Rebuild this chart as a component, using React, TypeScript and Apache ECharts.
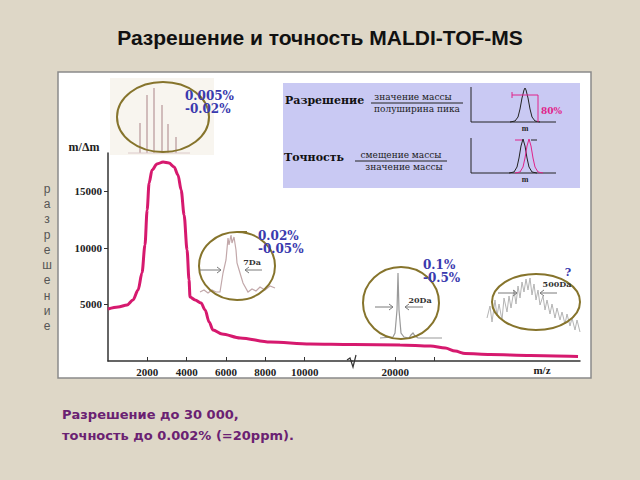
import React, { useEffect, useRef } from 'react';
import * as echarts from 'echarts';

const mzValues = [0, 510, 970, 1270, 1530, 1730, 1880, 1990, 2090, 2240, 2490, 2800, 3100, 3360, 3560, 3720, 3870, 4020, 4120, 4170, 4430, 4730, 4940, 5140, 5340, 5800, 6720, 8250, 10280, 12400, 17900, 20250, 21800, 22550, 23050, 23560, 24830, 26870, 29300];
const resolutionValues = [4600, 4780, 4960, 5400, 6280, 7800, 10270, 13360, 15750, 16900, 17430, 17600, 17520, 17170, 16460, 15130, 12920, 9820, 7170, 5660, 5400, 5130, 4510, 3450, 2740, 2390, 2040, 1680, 1500, 1460, 1460, 1420, 1330, 1150, 880, 660, 575, 490, 400];
const xTickValues = [2000, 4000, 6000, 8000, 10000, 20000, 22000];
const xLabelValues = [2000, 4000, 6000, 8000, 10000, 20000];
const yTickValues = [5000, 10000, 15000];
const titleText = 'Разрешение и точность MALDI-TOF-MS';
const footLines = ['Разрешение до 30 000,', 'точность до 0.002% (=20ppm).'];
const verticalWord = 'разрешение';
const yAxisName = 'm/Δm';
const xAxisName = 'm/z';
const insetTexts = [
  ['0.005%', '-0.02%'],
  ['0.02%', '-0.05%'],
  ['0.1%', '-0.5%'],
  ['?'],
];

const SERIF = '"DejaVu Serif", "Liberation Serif", serif';
const LSERIF = '"Liberation Serif", serif';
const SANS = '"Liberation Sans", Arial, sans-serif';
const WSANS = '"DejaVu Sans", Verdana, sans-serif';
const BLUE = '#3a3aae';
const OLIVE = '#86742c';
const PINK = '#e0238a';

function txt(x: number, y: number, text: string, font: string, fill: string, align = 'left', vAlign = 'middle', extra: any = {}) {
  return {
    type: 'text',
    x, y,
    style: { text, font, fill, align, textAlign: align, verticalAlign: vAlign, textVerticalAlign: vAlign, ...extra },
  };
}
function line(x1: number, y1: number, x2: number, y2: number, stroke: string, lineWidth = 1) {
  return { type: 'line', shape: { x1, y1, x2, y2 }, style: { stroke, lineWidth } };
}
function poly(points: number[][], stroke: string, lineWidth = 1) {
  return { type: 'polyline', shape: { points }, style: { stroke, lineWidth, fill: 'none' } };
}
function arrow(x1: number, x2: number, y: number) {
  const d = x2 > x1 ? -1 : 1;
  return [
    line(x1, y, x2, y, '#7a7a7a', 1),
    poly([[x2 + d * 4, y - 3], [x2, y], [x2 + d * 4, y + 3]], '#7a7a7a', 1),
  ];
}
function ellipse(cx: number, cy: number, rx: number, ry: number) {
  return { type: 'ellipse', shape: { cx, cy, rx, ry }, style: { fill: 'none', stroke: OLIVE, lineWidth: 2 } };
}

function buildGraphics() {
  const g: any[] = [];
  // panel
  g.push({ type: 'rect', z: -10, shape: { x: 58, y: 72, width: 533, height: 306 }, style: { fill: '#ffffff', stroke: '#8a8a8a', lineWidth: 1.5 } });
  // title
  g.push(txt(320, 37, titleText, `bold 21px ${SANS}`, '#111', 'center'));
  // foot
  g.push(txt(62, 414, footLines[0], `bold 13px ${WSANS}`, '#6a2172'));
  g.push(txt(62, 435, footLines[1], `bold 13px ${WSANS}`, '#6a2172'));
  // vertical word
  g.push(txt(47, 181, verticalWord.split('').join('\n'), `12px ${SANS}`, '#555', 'center', 'top', { lineHeight: 15.3 }));
  // axis names
  g.push(txt(84, 147, yAxisName, `bold 12px ${LSERIF}`, '#222', 'center'));
  g.push(txt(542, 370, xAxisName, `bold 11px ${LSERIF}`, '#222', 'center'));
  // break mark
  g.push(poly([[347, 360], [350, 358], [353, 367], [356, 355]], '#333', 1.2));

  // inset 1
  g.push({ type: 'rect', shape: { x: 110, y: 78, width: 104, height: 77 }, style: { fill: '#f8f5ef' } });
  [[140, 123], [147, 95], [154, 88], [162, 105], [168, 124], [176, 137]].forEach(([x, t]) => g.push(line(x, 153, x, t, '#c4a9aa', 1.5)));
  g.push(line(128, 153, 190, 153, '#dccaca', 1));
  g.push(ellipse(163, 117, 46, 35));
  g.push(txt(185, 96, insetTexts[0][0], `bold 12px ${SERIF}`, BLUE));
  g.push(txt(185, 109, insetTexts[0][1], `bold 12px ${SERIF}`, BLUE));

  // inset 2
  g.push(poly([[200, 292], [204, 290], [208, 293], [212, 290], [216, 292], [220, 292], [223, 273], [226, 260], [228, 238], [229, 245], [231, 235], [232, 243], [234, 237], [236, 250], [237, 263], [240, 273], [243, 283], [248, 292], [252, 289], [256, 291], [260, 287], [265, 290], [270, 286], [275, 288]], '#c2a8aa', 1.2));
  g.push(ellipse(237, 266, 38, 34));
  g.push(line(237, 232, 247, 232, OLIVE, 2));
  g.push(...arrow(200, 221, 270));
  g.push(...arrow(262, 245, 270));
  g.push(txt(252, 262, '7Da', `bold 8px ${SERIF}`, '#333', 'center'));
  g.push(txt(258, 236, insetTexts[1][0], `bold 12px ${SERIF}`, BLUE));
  g.push(txt(258, 249, insetTexts[1][1], `bold 12px ${SERIF}`, BLUE));

  // inset 3
  g.push(poly([[380, 338], [393, 337], [395, 333], [397, 310], [398, 273], [399, 310], [401, 333], [404, 337], [409, 338], [411, 335], [413, 333], [415, 336], [418, 338], [442, 338]], '#9a9a9a', 1.2));
  g.push(ellipse(401, 303, 38, 36));
  g.push(...arrow(375, 393, 307));
  g.push(...arrow(423, 405, 307));
  g.push(txt(420, 300, '20Da', `bold 8px ${SERIF}`, '#333', 'center'));
  g.push(txt(423, 265, insetTexts[2][0], `bold 12px ${SERIF}`, BLUE));
  g.push(txt(423, 278, insetTexts[2][1], `bold 12px ${SERIF}`, BLUE));

  // inset 4
  g.push(poly([[487, 318], [490, 306], [492, 322], [495, 300], [497, 316], [499, 304], [502, 320], [504, 298], [507, 312], [509, 296], [511, 308], [514, 290], [516, 304], [518, 286], [520, 298], [522, 282], [524, 292], [526, 279], [528, 290], [530, 278], [532, 295], [534, 284], [536, 300], [538, 290], [540, 305], [543, 296], [545, 310], [547, 300], [550, 314], [552, 304], [555, 318], [557, 308], [560, 320], [562, 312], [565, 324], [567, 314], [570, 326], [572, 318], [575, 330], [577, 320], [580, 332]], '#b4b4b4', 1));
  g.push(ellipse(536, 302, 44, 28));
  g.push(...arrow(498, 517, 293));
  g.push(...arrow(557, 540, 293));
  g.push(txt(557, 284, '500Da', `bold 8px ${SERIF}`, '#333', 'center'));
  g.push(txt(568, 272, insetTexts[3][0], `bold 11px ${SERIF}`, BLUE, 'center'));

  // blue box
  g.push({ type: 'rect', shape: { x: 283, y: 83, width: 297, height: 105 }, style: { fill: '#c9c9f3' } });
  g.push(txt(285, 100, 'Разрешение', `bold 11px ${SERIF}`, '#111'));
  g.push(txt(413, 97, 'значение массы', `9px ${SERIF}`, '#222', 'center'));
  g.push(line(371, 103, 463, 103, '#222', 1));
  g.push(txt(417, 109, 'полуширина пика', `9px ${SERIF}`, '#222', 'center'));
  g.push(txt(284, 157, 'Точность', `bold 11px ${SERIF}`, '#111'));
  g.push(txt(401, 155, 'смещение массы', `9px ${SERIF}`, '#222', 'center'));
  g.push(line(355, 161, 447, 161, '#222', 1));
  g.push(txt(404, 167, 'значение массы', `9px ${SERIF}`, '#222', 'center'));
  // mini plot 1
  g.push(poly([[471, 87], [471, 122], [556, 122]], '#222', 1));
  g.push(poly([[510, 122], [515, 121], [518, 117], [520, 109], [522, 98], [524, 90], [525, 88], [526, 90], [528, 98], [530, 109], [532, 117], [535, 121], [540, 122]], '#222', 1));
  g.push(line(512, 95, 538, 95, PINK, 1));
  g.push(line(512, 92, 512, 98, PINK, 1));
  g.push(line(538, 95, 538, 122, PINK, 1));
  g.push(txt(541, 111, '80%', `bold 9px ${SERIF}`, PINK));
  g.push(txt(525, 128, 'm', `bold 8px ${LSERIF}`, '#222', 'center'));
  // mini plot 2
  g.push(poly([[471, 138], [471, 173], [556, 173]], '#222', 1));
  g.push(poly([[509, 173], [514, 172], [517, 167], [519, 158], [521, 146], [523, 139], [525, 146], [527, 158], [529, 167], [532, 172], [537, 173]], '#222', 1));
  g.push(poly([[515, 173], [520, 172], [523, 167], [525, 158], [527, 146], [529, 139], [531, 146], [533, 158], [535, 167], [538, 172], [543, 173]], PINK, 1));
  g.push(line(515, 140, 522, 140, PINK, 1));
  g.push(line(531, 140, 537, 140, '#222', 1));
  g.push(txt(525, 179, 'm', `bold 8px ${LSERIF}`, '#222', 'center'));
  return g;
}

export default function App() {
  const ref = useRef<HTMLDivElement>(null);
  useEffect(() => {
    document.body.style.margin = '0';
    const chart = echarts.init(ref.current!, null, { renderer: 'svg' });
    const option: any = {
      animation: false,
      backgroundColor: '#ded7c7',
      grid: { left: 108, right: 60, top: 153, bottom: 119, containLabel: false },
      xAxis: {
        type: 'value',
        min: 0,
        max: 29400,
        breaks: [{ start: 12400, end: 17800, gap: 0 }],
        breakArea: { show: false },
        axisLine: { show: true, lineStyle: { color: '#333', width: 1.5 } },
        axisTick: { show: true, inside: true, length: 4, customValues: xTickValues, lineStyle: { color: '#333' } },
        axisLabel: { customValues: xLabelValues, formatter: (v: number) => String(v), fontFamily: 'Liberation Serif', fontWeight: 'bold', fontSize: 11, color: '#222', margin: 5 },
        splitLine: { show: false },
      },
      yAxis: {
        type: 'value',
        min: 0,
        max: 18400,
        axisLine: { show: true, lineStyle: { color: '#333', width: 1.5 } },
        axisTick: { show: true, length: 4, customValues: yTickValues, lineStyle: { color: '#333' } },
        axisLabel: { customValues: yTickValues, formatter: (v: number) => String(v), fontFamily: 'Liberation Serif', fontWeight: 'bold', fontSize: 11, color: '#222', margin: 6 },
        splitLine: { show: false },
      },
      series: [
        {
          type: 'line',
          data: mzValues.map((m, i) => [m, resolutionValues[i]]),
          showSymbol: false,
          smooth: 0.3,
          smoothMonotone: 'x',
          lineStyle: { color: '#d6196e', width: 3 },
          z: 3,
        },
      ],
      graphic: { elements: buildGraphics() },
    };
    chart.setOption(option);
    return () => chart.dispose();
  }, []);
  return <div ref={ref} style={{ width: 640, height: 480 }} />;
}
